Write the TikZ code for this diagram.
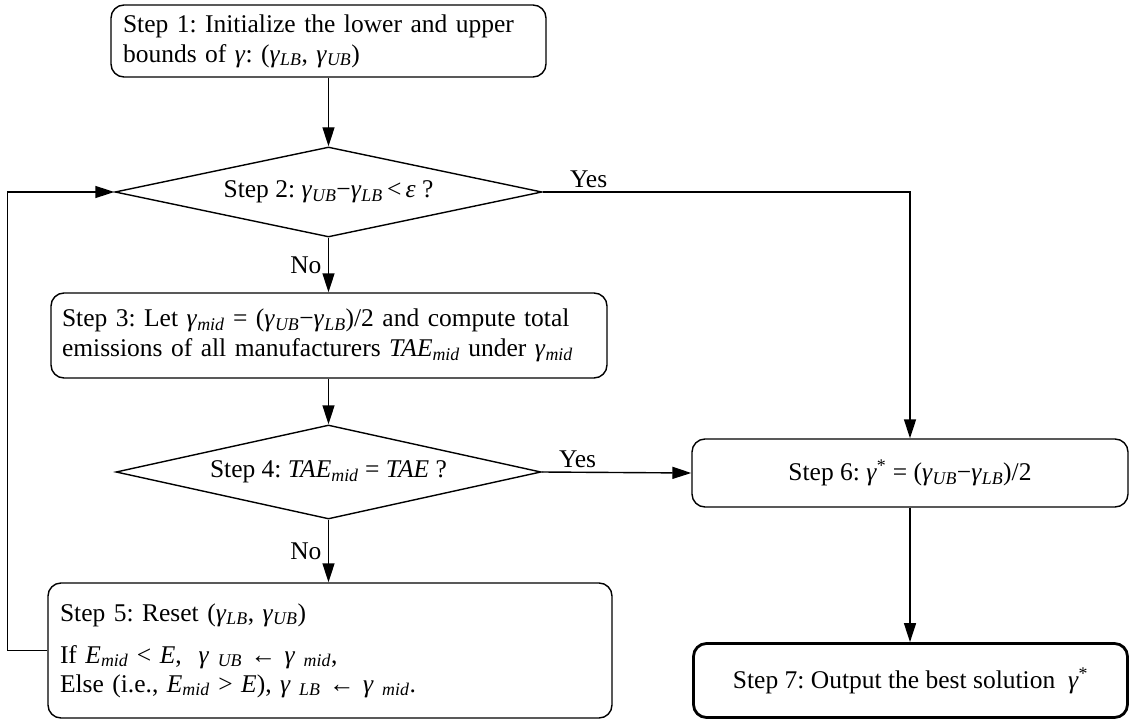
\documentclass[tikz,border=0pt]{standalone}
\usepackage{fontspec}
\setmainfont{Liberation Serif}
\usepackage{tikz}
\usetikzlibrary{calc,positioning,arrows.meta,shapes.geometric}

\newcommand{\gsub}[1]{\textit{γ}\textsubscript{\textit{#1}}}
\newcommand{\isub}[2]{\textit{#1}\textsubscript{\textit{#2}}}

\begin{document}
\frenchspacing
\begin{tikzpicture}[x=1pt,y=-1pt,
    every node/.style={font=\fontsize{25.5}{30}\selectfont},
    stepbox/.style={draw,rounded corners=13pt,line width=1.4pt,inner sep=0pt},
    decbox/.style={draw,diamond,aspect=5,inner sep=0pt,line width=1.4pt},
    arr/.style={-{Triangle[length=19pt,width=12pt]},line width=1.4pt}]
    \useasboundingbox (0,0) rectangle (1129,722);

    \node[stepbox,minimum width=435pt,minimum height=72pt,text width=411pt,align=left] (s1) at (328.5,41)
        {Step 1: Initialize the lower and upper\\bounds of \textit{γ}: (\gsub{LB}, \gsub{UB})};
    \node[decbox,minimum width=427pt,minimum height=90pt] (d2) at (328.5,192)
        {Step 2: \gsub{UB}−\gsub{LB}\,<\,\textit{ε} ?};
    \node[stepbox,minimum width=556pt,minimum height=85pt,text width=534pt,align=left] (s3) at (329,335.5)
        {Step 3: Let \gsub{mid} = (\gsub{UB}−\gsub{LB})/2 and compute total\\emissions of all manufacturers \isub{TAE}{mid} under \gsub{mid}};
    \node[decbox,minimum width=425pt,minimum height=94pt] (d4) at (328.5,472)
        {Step 4: \isub{TAE}{mid} = \textit{TAE} ?};
    \node[stepbox,minimum width=564pt,minimum height=135pt,text width=540pt,align=left] (s5) at (330,650.5)
        {Step 5: Reset (\gsub{LB}, \gsub{UB})\\[12pt]
         If \isub{E}{mid} < \textit{E},~~\textit{γ}\textsubscript{~\textit{UB}} ← \textit{γ}\textsubscript{~\textit{mid}},\\[-1pt]
         Else (i.e., \isub{E}{mid} > \textit{E}), \textit{γ}\textsubscript{~\textit{LB}} ← \textit{γ}\textsubscript{~\textit{mid}}.};
    \node[stepbox,minimum width=436pt,minimum height=68pt] (s6) at (910,473)
        {Step 6: \textit{γ}\textsuperscript{*} = (\gsub{UB}−\gsub{LB})/2};
    \node[stepbox,line width=2.8pt,minimum width=434pt,minimum height=74pt] (s7) at (910.5,680.5)
        {Step 7: Output the best solution~~\textit{γ}\textsuperscript{*}};

    \draw[arr] (s1.south) -- (d2.north);
    \draw[arr] (d2.east) -- node[above,pos=0.125] {Yes} (d2.east -| s6.north) -- (s6.north);
    \draw[arr] (d2.south) -- node[left=3pt] {No} (s3.north -| d2.south);
    \draw[arr] (s3.south -| d4.north) -- (d4.north);
    \draw[arr] (d4.east) -- node[above,pos=0.24] {Yes} (s6.west);
    \draw[arr] (d4.south) -- node[left=3pt] {No} (s5.north -| d4.south);
    \draw[arr] (s6.south) -- (s7.north -| s6.south);
    \draw[arr] (s5.west) -- ++(-40,0) |- (d2.west);
\end{tikzpicture}
\end{document}
